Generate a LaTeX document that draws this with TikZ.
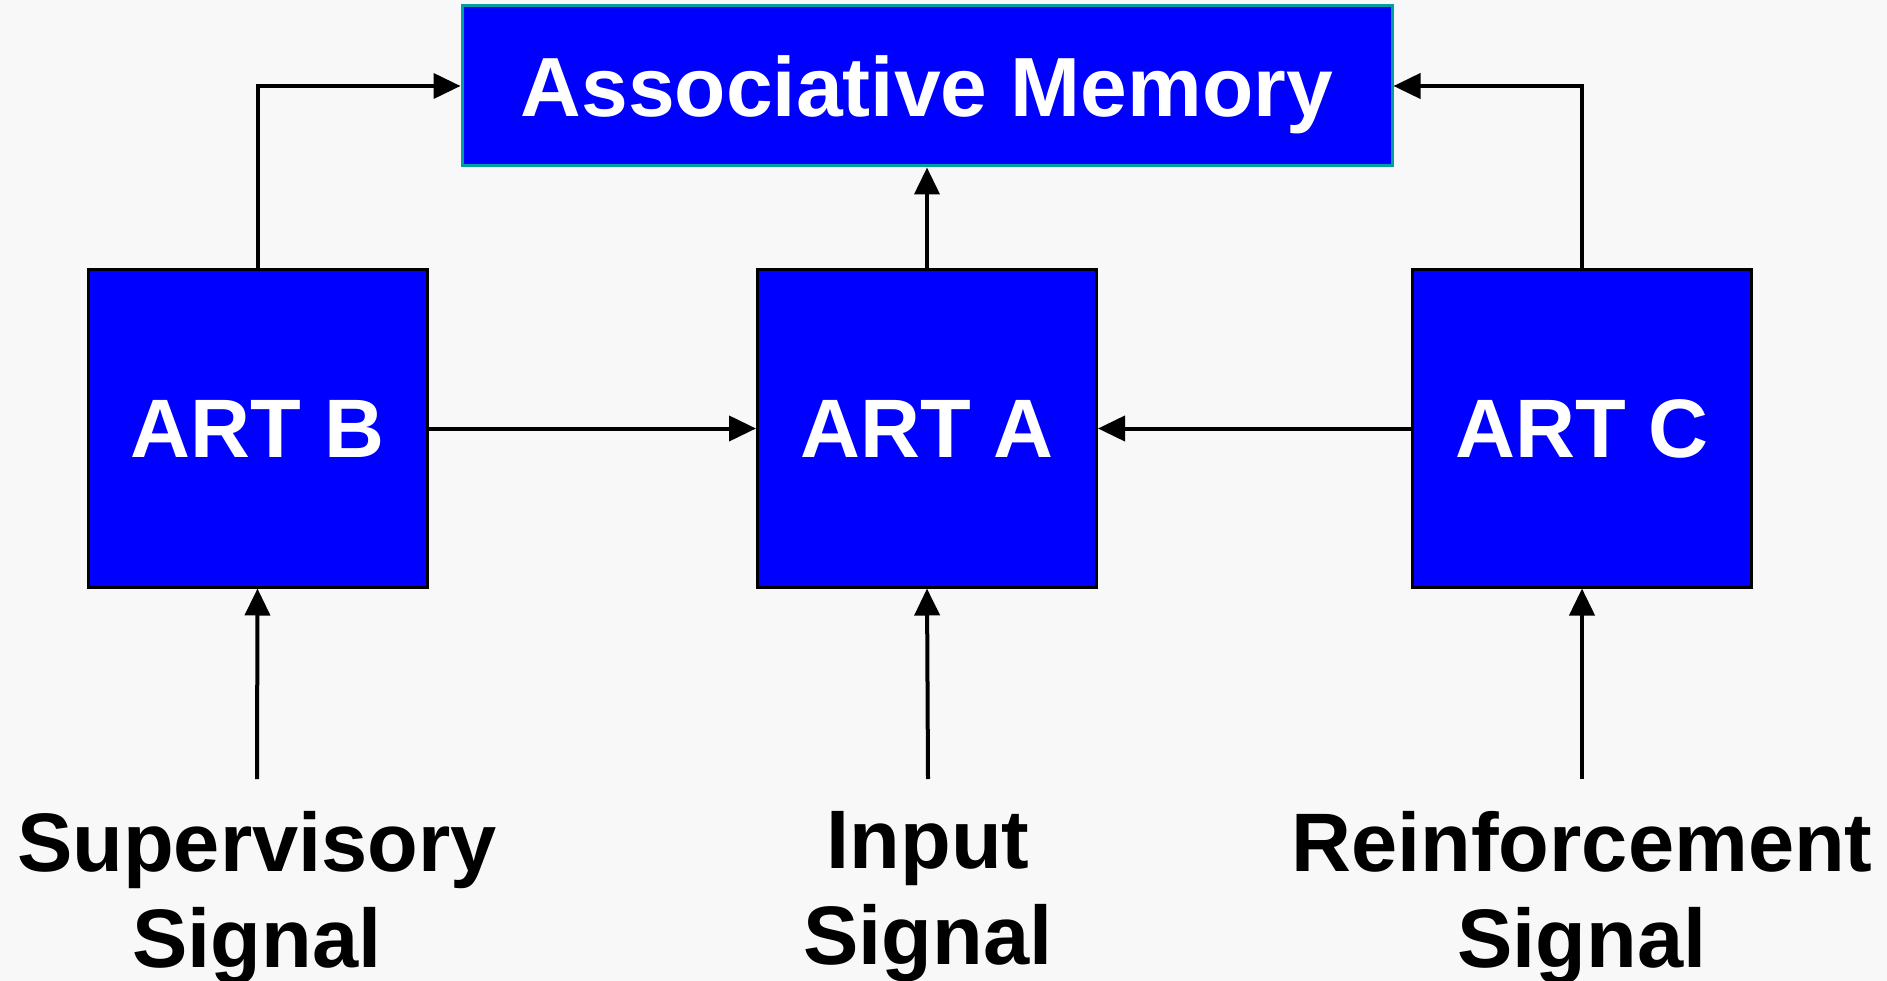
\documentclass[tikz,border=0pt]{standalone}
\usepackage{fontspec}
\setmainfont{Liberation Sans}
\usetikzlibrary{arrows.meta}
\definecolor{bg}{HTML}{F8F8F8}
\definecolor{boxblue}{HTML}{0000FF}
\definecolor{amborder}{HTML}{00A0A0}
\begin{document}
\begin{tikzpicture}[x=1pt,y=-1pt,
  artbox/.style={draw=black, line width=3pt, fill=boxblue, text=white,
    minimum width=339pt, minimum height=317pt, inner sep=0pt,
    font=\fontsize{83}{94}\selectfont\bfseries},
  membox/.style={draw=amborder, line width=3pt, fill=boxblue, text=white,
    minimum width=930pt, minimum height=160pt, inner sep=0pt, text depth=0pt,
    font=\fontsize{84}{94}\selectfont\bfseries},
  sig/.style={align=center, inner sep=0pt, anchor=north,
    font=\fontsize{83}{96}\selectfont\bfseries},
  conn/.style={line width=4pt, -{Triangle[length=27pt,width=25pt]}}
]
\fill[bg] (0,0) rectangle (1887,981);
\useasboundingbox (0,0) rectangle (1887,981);

\node[membox] (am) at (927,86) {Associative Memory};
\node[artbox] (b) at (257.5,428.5) {ART B};
\node[artbox] (a) at (927,428.5) {ART A};
\node[artbox] (c) at (1582,428.5) {ART C};

\node[sig] (ls) at (257,811) {Supervisory\\Signal};
\node[sig] (li) at (928,811) {Input\\Signal};
\node[sig] (lr) at (1582,811) {Reinforcement\\Signal};

\coordinate (sb) at (257,779);
\coordinate (si) at (928,779);
\coordinate (sr) at (1582,779);

\draw[conn] (b.north) |- (am.west);
\draw[conn] (c.north) |- (am.east);
\draw[conn] (a.north) -- (am.south);
\draw[conn] (b.east) -- (a.west);
\draw[conn] (c.west) -- (a.east);
\draw[conn] (sb) -- (b.south);
\draw[conn] (si) -- (a.south);
\draw[conn] (sr) -- (c.south);
\end{tikzpicture}
\end{document}
